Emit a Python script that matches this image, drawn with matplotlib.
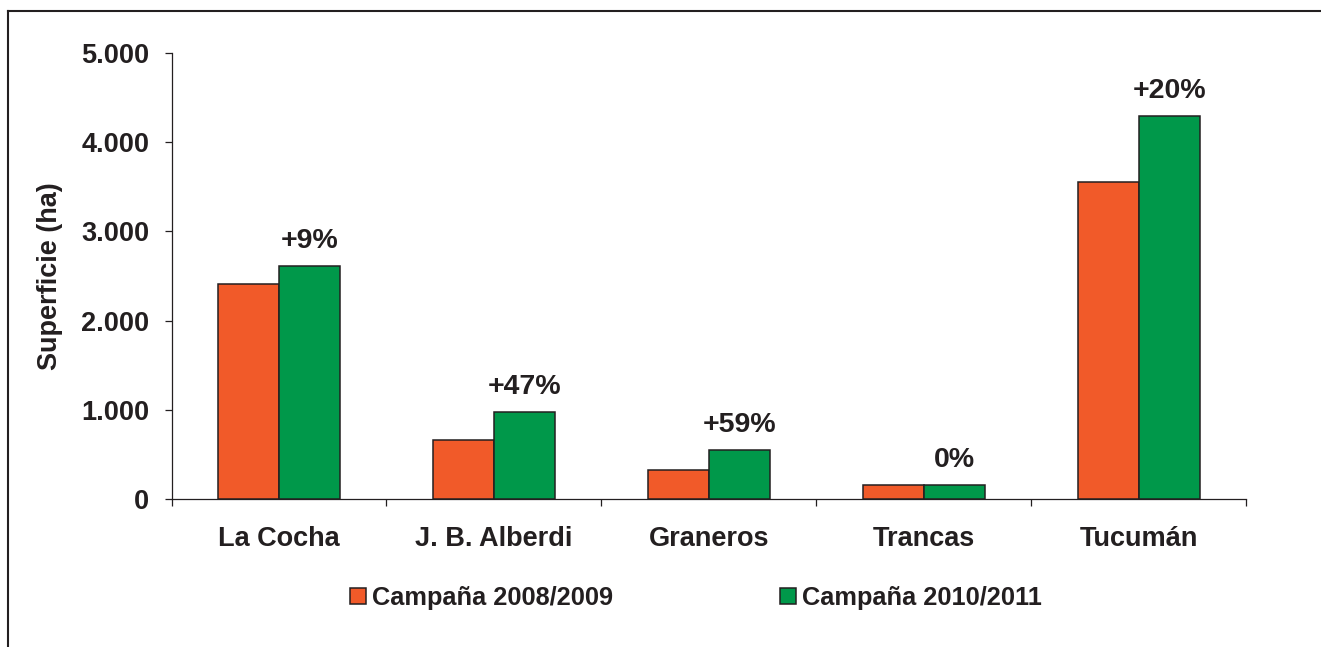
import matplotlib
matplotlib.use("Agg")
import matplotlib.pyplot as plt
from matplotlib.lines import Line2D
import numpy as np

categories = ["La Cocha", "J. B. Alberdi", "Graneros", "Trancas", "Tucumán"]
campana_2008 = [2415, 665, 332, 155, 3555]
campana_2010 = [2610, 975, 550, 155, 4290]
pct_labels = ["+9%", "+47%", "+59%", "0%", "+20%"]
series_names = ["Campaña 2008/2009", "Campaña 2010/2011"]
yticks = [0, 1000, 2000, 3000, 4000, 5000]
ytick_labels = ["0", "1.000", "2.000", "3.000", "4.000", "5.000"]

DARK = "#231f20"
ORANGE = "#f15a29"
GREEN = "#00984a"

plt.rcParams["font.family"] = ["Liberation Sans", "DejaVu Sans"]
plt.rcParams["font.weight"] = "bold"

fig = plt.figure(figsize=(13.21, 6.47), dpi=100)
ax = fig.add_axes([171.5/1321, 1 - 499.3/647, (1246 - 171.5)/1321, (499.3 - 52.8)/647])

x = np.arange(len(categories))
w = 0.284
b1 = ax.bar(x - w/2, campana_2008, w, color=ORANGE, edgecolor=DARK, linewidth=1.1,
            label=series_names[0], zorder=3)
b2 = ax.bar(x + w/2, campana_2010, w, color=GREEN, edgecolor=DARK, linewidth=1.1,
            label=series_names[1], zorder=3)

for xi, v, t in zip(x, campana_2010, pct_labels):
    ax.annotate(t, (xi + w/2, v), xytext=(0, 9), textcoords="offset points",
                ha="center", va="bottom", fontsize=20.5, fontweight="bold", color=DARK)

ax.set_xlim(-0.5, len(categories) - 0.5)
ax.set_ylim(0, 5000)
ax.set_yticks(yticks)
ax.set_yticklabels(ytick_labels)
ax.set_xticks(x)
ax.set_xticklabels(categories)
ax.set_xticks(np.arange(-0.5, len(categories)), minor=True)

for s in ["top", "right"]:
    ax.spines[s].set_visible(False)
for s in ["left", "bottom"]:
    ax.spines[s].set_color(DARK)
    ax.spines[s].set_linewidth(0.9)

ax.tick_params(axis="y", direction="out", length=5, width=0.9, color=DARK,
               labelsize=19.5, labelcolor=DARK, pad=11)
ax.tick_params(axis="x", which="major", length=0, labelsize=19.5, labelcolor=DARK, pad=19)
ax.tick_params(axis="x", which="minor", direction="out", length=5, width=0.9, color=DARK)
for lab in ax.get_xticklabels() + ax.get_yticklabels():
    lab.set_fontweight("bold")

ax.set_ylabel("Superficie (ha)", fontsize=19.5, fontweight="bold", color=DARK)
ax.yaxis.set_label_coords(-0.101, 0.5)

leg = fig.legend(handles=[b1, b2], labels=series_names, loc="center left",
                 bbox_to_anchor=(350/1321, 1 - 598/647), ncol=2, frameon=False,
                 prop={"size": 18.3, "weight": "bold"}, handlelength=0.63,
                 handleheight=0.63, handletextpad=0.25, columnspacing=6.55,
                 borderpad=0, borderaxespad=0)
for t in leg.get_texts():
    t.set_color(DARK)

# figure frame (left and top edges)
fig.add_artist(Line2D([8/1321, 8/1321], [0, 1 - 11/647], transform=fig.transFigure,
                      color=DARK, linewidth=1.5))
fig.add_artist(Line2D([8/1321, 1], [1 - 11/647, 1 - 11/647], transform=fig.transFigure,
                      color=DARK, linewidth=1.5))

fig.savefig("out.png", dpi=100)
